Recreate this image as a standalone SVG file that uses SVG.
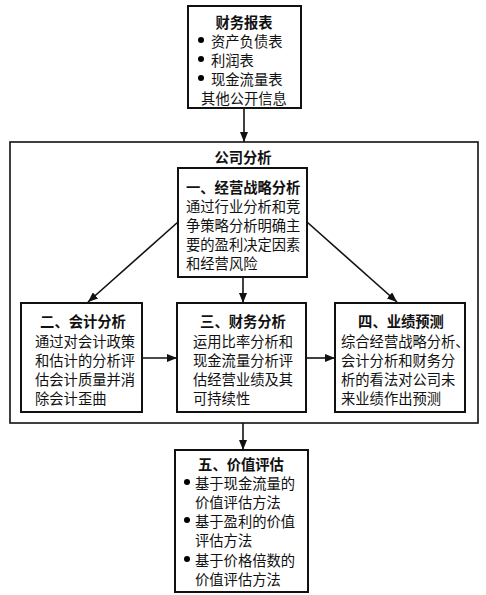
<svg xmlns="http://www.w3.org/2000/svg" width="486" height="595" viewBox="0 0 486 595">
<style>
.box{fill:#fff;stroke:#111;stroke-width:2}
.outer{fill:none;stroke:#111;stroke-width:1.6}
.t{font-family:"Noto Sans CJK SC","Noto Sans",sans-serif;font-size:14.3px;fill:#111;dominant-baseline:central}
.b{font-weight:bold}
.c{text-anchor:middle}
.ln{stroke:#111;stroke-width:1.6;fill:none;marker-end:url(#ah)}
</style>
<defs>
<marker id="ah" markerUnits="userSpaceOnUse" markerWidth="10" markerHeight="8" refX="10" refY="4" orient="auto">
<path d="M0,0 L10,4 L0,8 z" fill="#111"/>
</marker>
</defs>
<rect width="486" height="595" fill="#fff"/>
<g id="company">
<rect class="outer" x="10" y="142" width="468" height="281"/>
<text class="t b c" x="243" y="156">公司分析</text>
</g>
<g id="connectors">
<line class="ln" x1="244" y1="108" x2="244" y2="142"/>
<line class="ln" x1="178" y1="222" x2="88" y2="302"/>
<line class="ln" x1="307" y1="222" x2="397" y2="302"/>
<line class="ln" x1="243" y1="277" x2="243" y2="303"/>
<line class="ln" x1="142" y1="358" x2="177" y2="358"/>
<line class="ln" x1="306" y1="358" x2="335" y2="358"/>
<line class="ln" x1="243" y1="423" x2="243" y2="450"/>
</g>
<g id="statements">
<rect class="box" x="188" y="6" width="113" height="102"/>
<text class="t b c" x="244" y="21">财务报表</text>
<circle cx="201" cy="40" r="3"/><text class="t" x="211" y="40">资产负债表</text>
<circle cx="201" cy="59" r="3"/><text class="t" x="211" y="59">利润表</text>
<circle cx="201" cy="78" r="3"/><text class="t" x="211" y="78">现金流量表</text>
<text class="t c" x="244" y="97">其他公开信息</text>
</g>
<g id="strategy">
<rect class="box" x="178" y="168" width="129" height="109"/>
<text class="t b" x="186" y="186">一、经营战略分析</text>
<text class="t" x="186" y="205">通过行业分析和竞</text>
<text class="t" x="186" y="224">争策略分析明确主</text>
<text class="t" x="186" y="243">要的盈利决定因素</text>
<text class="t" x="186" y="262">和经营风险</text>
</g>
<g id="accounting">
<rect class="box" x="21" y="303" width="121" height="109"/>
<text class="t b c" x="83" y="320">二、会计分析</text>
<text class="t" x="35" y="340">通过对会计政策</text>
<text class="t" x="35" y="359">和估计的分析评</text>
<text class="t" x="35" y="378">估会计质量并消</text>
<text class="t" x="35" y="397">除会计歪曲</text>
</g>
<g id="financial">
<rect class="box" x="177" y="303" width="129" height="109"/>
<text class="t b c" x="243" y="320">三、财务分析</text>
<text class="t" x="193" y="340">运用比率分析和</text>
<text class="t" x="193" y="359">现金流量分析评</text>
<text class="t" x="193" y="378">估经营业绩及其</text>
<text class="t" x="193" y="397">可持续性</text>
</g>
<g id="forecast">
<rect class="box" x="335" y="303" width="130" height="109"/>
<text class="t b c" x="401" y="320">四、业绩预测</text>
<text class="t" x="341" y="340">综合经营战略分析、</text>
<text class="t" x="341" y="359">会计分析和财务分</text>
<text class="t" x="341" y="378">析的看法对公司未</text>
<text class="t" x="341" y="397">来业绩作出预测</text>
</g>
<g id="valuation">
<rect class="box" x="175" y="450" width="133" height="142"/>
<text class="t b c" x="241" y="463">五、价值评估</text>
<circle cx="187" cy="482" r="3"/><text class="t" x="195" y="482">基于现金流量的</text>
<text class="t" x="195" y="501">价值评估方法</text>
<circle cx="187" cy="520" r="3"/><text class="t" x="195" y="520">基于盈利的价值</text>
<text class="t" x="195" y="539">评估方法</text>
<circle cx="187" cy="559" r="3"/><text class="t" x="195" y="559">基于价格倍数的</text>
<text class="t" x="195" y="578">价值评估方法</text>
</g>
</svg>
